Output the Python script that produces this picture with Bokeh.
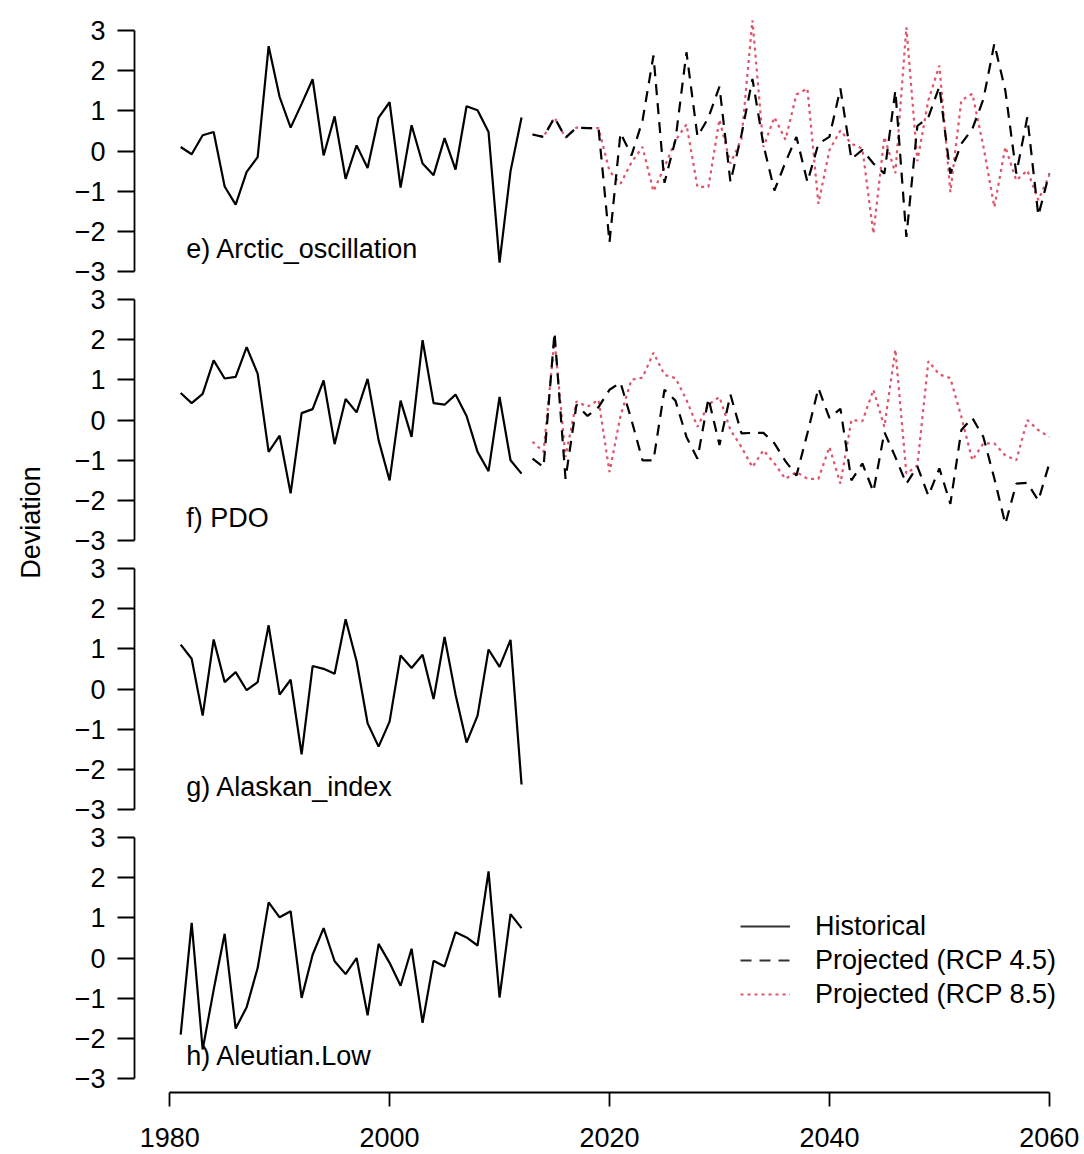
import math

from bokeh.embed import file_html
from bokeh.layouts import column, row
from bokeh.models import FixedTicker, Label, Legend, LegendItem, Range1d
from bokeh.plotting import figure
from bokeh.resources import INLINE

# ---- data -----------------------------------------------------------------
hist_years = list(range(1981, 2013))
proj_years = list(range(2013, 2061))

ao_hist = [0.10, -0.08, 0.39, 0.47, -0.88, -1.33, -0.52, -0.15, 2.60, 1.34,
           0.58, 1.17, 1.78, -0.11, 0.86, -0.69, 0.14, -0.42, 0.83, 1.21,
           -0.91, 0.64, -0.31, -0.60, 0.32, -0.46, 1.11, 1.01, 0.47, -2.77,
           -0.50, 0.83]
ao_rcp45 = [0.41, 0.35, 0.83, 0.33, 0.58, 0.57, 0.57, -2.27, 0.45, -0.11,
            0.75, 2.37, -0.79, 0.28, 2.45, 0.36, 0.83, 1.60, -0.77, 0.40,
            1.79, 0.15, -0.98, -0.28, 0.35, -0.77, 0.18, 0.35, 1.55, -0.20,
            0.03, -0.31, -0.56, 1.50, -2.13, 0.62, 0.84, 1.60, -0.56, 0.18,
            0.55, 1.28, 2.66, 1.50, -0.56, 0.84, -1.60, -0.56]
ao_rcp85 = [0.41, 0.35, 0.83, 0.33, 0.58, 0.57, 0.57, -0.50, -0.81, -0.28,
            0.10, -1.00, -0.40, 0.26, 0.66, -0.89, -0.89, 0.78, -0.31, 0.30,
            3.24, 0.10, 0.84, 0.28, 1.40, 1.55, -1.31, 0.02, 0.51, 0.18,
            0.06, -2.05, 0.35, -0.55, 3.07, -0.25, 1.26, 2.12, -1.02, 1.26,
            1.42, 0.12, -1.39, 0.10, -0.73, -0.48, -1.22, -0.60]

pdo_hist = [0.67, 0.42, 0.65, 1.48, 1.03, 1.07, 1.81, 1.15, -0.79, -0.39,
            -1.82, 0.17, 0.27, 0.98, -0.60, 0.52, 0.19, 1.02, -0.50, -1.50,
            0.48, -0.42, 1.98, 0.42, 0.38, 0.63, 0.10, -0.79, -1.27, 0.57,
            -1.00, -1.33]
pdo_rcp45 = [-0.96, -1.17, 2.17, -1.46, 0.38, 0.10, 0.32, 0.75, 0.93, 0.00,
             -1.00, -1.00, 0.75, 0.48, -0.42, -0.96, 0.54, -0.62, 0.63, -0.33,
             -0.32, -0.32, -0.58, -1.02, -1.38, -0.33, 0.79, 0.05, 0.28, -1.50,
             -1.08, -1.78, -0.30, -0.92, -1.58, -1.15, -1.88, -1.20, -2.08, -0.25,
             0.05, -0.42, -1.45, -2.58, -1.58, -1.56, -2.00, -1.08]
pdo_rcp85 = [-0.54, -0.79, 2.00, -0.92, 0.46, 0.33, 0.50, -1.29, 0.10, 1.00,
             1.05, 1.67, 1.12, 1.04, 0.50, -0.17, 0.38, 0.57, -0.25, -0.67,
             -1.17, -0.75, -1.08, -1.46, -1.29, -1.46, -1.46, -0.67, -1.58, 0.00,
             -0.03, 0.75, -0.17, 1.75, -1.33, -1.13, 1.46, 1.13, 1.04, 0.08,
             -1.00, -0.58, -0.58, -0.88, -1.00, 0.00, -0.25, -0.42]

alaskan_hist = [1.10, 0.75, -0.66, 1.23, 0.17, 0.42, -0.03, 0.17, 1.58, -0.14,
                0.23, -1.62, 0.57, 0.50, 0.38, 1.73, 0.69, -0.85, -1.43, -0.81,
                0.83, 0.52, 0.85, -0.25, 1.29, -0.14, -1.33, -0.66, 0.98, 0.55,
                1.22, -2.37]

aleutian_hist = [-1.90, 0.87, -2.27, -0.79, 0.60, -1.75, -1.22, -0.25, 1.38, 1.01,
                 1.16, -0.99, 0.08, 0.74, -0.08, -0.40, 0.00, -1.42, 0.35, -0.12,
                 -0.69, 0.23, -1.61, -0.07, -0.21, 0.64, 0.51, 0.31, 2.15, -0.98,
                 1.09, 0.74]

panel_titles = ["e) Arctic_oscillation", "f) PDO", "g) Alaskan_index", "h) Aleutian.Low"]
legend_labels = ["Historical", "Projected (RCP 4.5)", "Projected (RCP 8.5)"]
y_ticks = [-3, -2, -1, 0, 1, 2, 3]
x_ticks = [1980, 2000, 2020, 2040, 2060]

# ---- style ----------------------------------------------------------------
FONT = "Liberation Sans"
FS = "27px"
RED = "#DF536B"
LW = 2.2
DASH = "11 8"
DOT = "3 4"

X0, X1 = 1976.8, 2063.2
FRAME_W, FRAME_H = 950, 269
LEFT = 89
YLIM = 3.3375
PAD = 20          # transparent band above/below each panel so tick labels are not clipped


def panel(title, hist, rcp45=None, rcp85=None, top=PAD, bottom=PAD,
          with_xaxis=False, overlap=True):
    p = figure(frame_width=FRAME_W, frame_height=FRAME_H,
               x_range=Range1d(X0, X1), y_range=Range1d(-YLIM, YLIM),
               x_axis_location="below" if with_xaxis else None,
               min_border_left=LEFT, min_border_right=0,
               min_border_top=top, min_border_bottom=bottom,
               output_backend="svg", toolbar_location=None)
    if overlap:
        p.margin = (-2 * PAD, 0, 0, 0)
    p.outline_line_color = None
    p.grid.visible = False
    p.background_fill_color = None
    p.border_fill_color = None

    ax = p.yaxis[0]
    ax.ticker = FixedTicker(ticks=y_ticks)
    ax.bounds = (-3, 3)
    ax.axis_line_width = 1.8
    ax.major_tick_line_width = 1.8
    ax.major_tick_out = 17
    ax.major_tick_in = 0
    ax.minor_tick_line_color = None
    ax.major_label_standoff = 12
    ax.major_label_text_font = FONT
    ax.major_label_text_font_size = FS
    ax.major_label_text_color = "black"

    if with_xaxis:
        xa = p.xaxis[0]
        xa.ticker = FixedTicker(ticks=x_ticks)
        xa.bounds = (1980, 2060)
        xa.axis_line_width = 1.8
        xa.major_tick_line_width = 1.8
        xa.major_tick_out = 14
        xa.major_tick_in = 0
        xa.minor_tick_line_color = None
        xa.major_label_standoff = 21
        xa.major_label_text_font = FONT
        xa.major_label_text_font_size = FS
        xa.major_label_text_color = "black"

    p.line(hist_years, hist, line_color="black", line_width=LW)
    if rcp85 is not None:
        p.line(proj_years, rcp85, line_color=RED, line_width=LW, line_dash=DOT)
    if rcp45 is not None:
        p.line(proj_years, rcp45, line_color="black", line_width=LW, line_dash=DASH)

    p.add_layout(Label(x=1981.5, y=-2.43, text=title, text_font=FONT,
                       text_font_size=FS, text_align="left",
                       text_baseline="middle", text_color="black"))
    return p


fe = panel(panel_titles[0], ao_hist, ao_rcp45, ao_rcp85, top=16, overlap=False)
ff = panel(panel_titles[1], pdo_hist, pdo_rcp45, pdo_rcp85)
fg = panel(panel_titles[2], alaskan_hist)
fh = panel(panel_titles[3], aleutian_hist, bottom=62, with_xaxis=True)

# legend keys: renderers whose only point is missing, used for the samples
nan = float("nan")
k1 = fh.line(x=[nan], y=[nan], line_color="#333333", line_width=LW)
k2 = fh.line(x=[nan], y=[nan], line_color="#333333", line_width=LW, line_dash=DASH)
k3 = fh.line(x=[nan], y=[nan], line_color=RED, line_width=LW, line_dash=DOT)
legend = Legend(
    items=[LegendItem(label=legend_labels[0], renderers=[k1]),
           LegendItem(label=legend_labels[1], renderers=[k2]),
           LegendItem(label=legend_labels[2], renderers=[k3])],
    location=(606, 81), orientation="vertical",
    glyph_width=50, glyph_height=34, label_height=34, label_standoff=25,
    spacing=0, padding=0, margin=0,
    border_line_color=None, background_fill_alpha=0,
    label_text_font=FONT, label_text_font_size=FS, label_text_color="black",
)
fh.add_layout(legend)

# shared y-axis title
lab = figure(frame_width=45, frame_height=1154,
             x_range=Range1d(0, 45), y_range=Range1d(1154, 0),
             x_axis_location=None, y_axis_location=None,
             min_border=0, output_backend="svg", toolbar_location=None)
lab.outline_line_color = None
lab.grid.visible = False
lab.add_layout(Label(x=30, y=522, text="Deviation", angle=math.pi / 2,
                     text_align="center", text_baseline="middle",
                     text_font=FONT, text_font_size=FS, text_color="black"))

layout = row(lab, column(fe, ff, fg, fh, spacing=0), spacing=0)

open("out.html", "w").write(file_html(layout, INLINE))
